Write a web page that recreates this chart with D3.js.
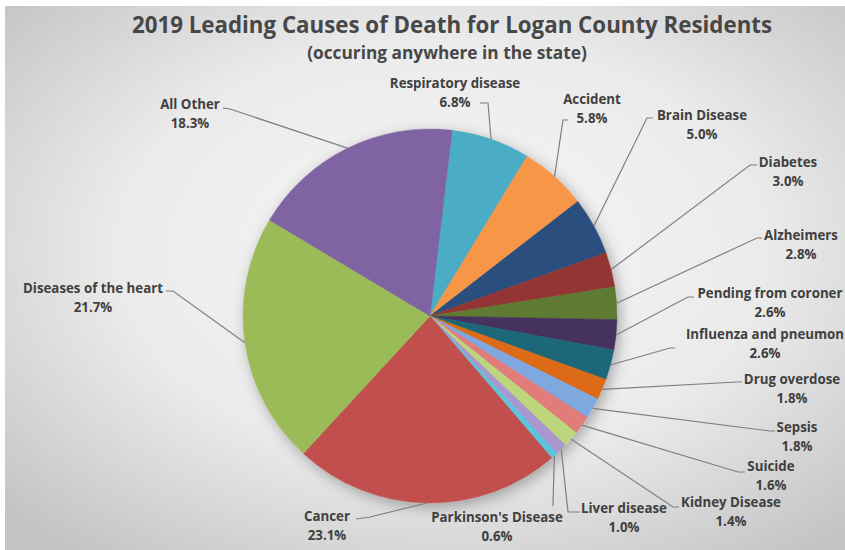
<!DOCTYPE html>
<html>
<head>
<meta charset="utf-8">
<script src="https://cdn.jsdelivr.net/npm/d3@7"></script>
<style>
  body { margin: 0; background: #fff; }
  text { font-family: "Open Sans", "DejaVu Sans", sans-serif; }
</style>
</head>
<body>
<script>
const width = 845, height = 550

// data, clockwise from top
const causes = ['Respiratory disease', 'Accident', 'Brain Disease', 'Diabetes', 'Alzheimers',
  'Pending from coroner', 'Influenza and pneumon', 'Drug overdose', 'Sepsis', 'Suicide',
  'Kidney Disease', 'Liver disease', "Parkinson's Disease", 'Cancer', 'Diseases of the heart', 'All Other']
const percents = [6.8, 5.8, 5.0, 3.0, 2.8, 2.6, 2.6, 1.8, 1.8, 1.6, 1.4, 1.0, 0.6, 23.1, 21.7, 18.3]
const colors = ['#4bacc6', '#f79646', '#2a4f7e', '#943634', '#5f7a30', '#45305e', '#1f6878', '#dd6a12',
  '#7fa8e0', '#e07b79', '#bcd67e', '#a997cf', '#5cc4dc', '#c0504d', '#9bbb59', '#8064a2']

// label layout: name centre x, name y, leader elbow, leader end
const labelPos = [
  [455, 83, 488, 103, 480, 103],
  [592, 99, 563, 120, 568, 120],
  [702, 115, 647, 118, 653, 118],
  [788, 162, 750, 165, 757, 165],
  [801, 235, 757, 238, 762, 238],
  [770, 293, 688, 297, 694, 297],
  [765, 334, 670, 348, 675, 348],
  [792, 379, 737, 382, 742, 382],
  [797, 427, 770, 431, 775, 431],
  [771, 466, 738, 472, 745, 472],
  [731, 502, 673, 507, 679, 507],
  [624, 508, 568, 512, 580, 512],
  [497, 517, 553, 505, 553, 506],
  [327, 516, 370, 517, 356, 519],
  [93, 288, 173, 291, 166, 291],
  [190, 104, 230, 109, 223, 108]
]

const cx = 430, cy = 316, radius = 187
const offset = 6.8 / 180 * Math.PI

const data = causes.map((c, i) => ({ name: c, value: percents[i], color: colors[i], pos: labelPos[i] }))

const svg = d3.select('body').append('svg')
  .attr('width', width)
  .attr('height', height)

const defs = svg.append('defs')
const grad = defs.append('radialGradient')
  .attr('id', 'bg')
  .attr('cx', '52%').attr('cy', '45%').attr('r', '70%')
grad.append('stop').attr('offset', '0%').attr('stop-color', '#f6f6f6')
grad.append('stop').attr('offset', '55%').attr('stop-color', '#ebebeb')
grad.append('stop').attr('offset', '100%').attr('stop-color', '#c4c4c4')

const shadow = defs.append('filter')
  .attr('id', 'shadow')
  .attr('x', '-20%').attr('y', '-20%').attr('width', '140%').attr('height', '140%')
shadow.append('feDropShadow')
  .attr('dx', 3).attr('dy', 4)
  .attr('stdDeviation', 7)
  .attr('flood-color', '#000')
  .attr('flood-opacity', 0.3)

// background
svg.append('rect')
  .attr('x', 5).attr('y', 6)
  .attr('width', width - 5).attr('height', height - 6)
  .attr('fill', 'url(#bg)')

// title
svg.append('text')
  .attr('x', 452).attr('y', 33)
  .attr('text-anchor', 'middle')
  .attr('font-size', 22.3)
  .attr('font-weight', 700)
  .attr('fill', '#474747')
  .text('2019 Leading Causes of Death for Logan County Residents')

svg.append('text')
  .attr('x', 447).attr('y', 59)
  .attr('text-anchor', 'middle')
  .attr('font-size', 17.3)
  .attr('font-weight', 700)
  .attr('fill', '#474747')
  .text('(occuring anywhere in the state)')

const pie = d3.pie()
  .sort(null)
  .value(d => d.value)
  .startAngle(offset)
  .endAngle(offset + 2 * Math.PI)

const arc = d3.arc().innerRadius(0).outerRadius(radius)

const arcs = pie(data)

const g = svg.append('g')
  .attr('transform', 'translate(' + cx + ',' + cy + ')')

g.append('g')
  .attr('filter', 'url(#shadow)')
  .selectAll('path')
  .data(arcs)
  .enter()
  .append('path')
    .attr('d', arc)
    .attr('fill', d => d.data.color)
    .attr('stroke', d => d.data.color)
    .attr('stroke-width', 0.5)

// leader lines: from the slice edge to the label
const line = d3.line()
svg.selectAll('.leader')
  .data(arcs)
  .enter()
  .append('path')
    .attr('class', 'leader')
    .attr('fill', 'none')
    .attr('stroke', '#7f7f7f')
    .attr('stroke-width', 1.2)
    .attr('d', d => {
      const a = (d.startAngle + d.endAngle) / 2
      const p0 = [cx + radius * Math.sin(a), cy - radius * Math.cos(a)]
      const p = d.data.pos
      return line([p0, [p[2], p[3]], [p[4], p[5]]])
    })

const labels = svg.selectAll('.label')
  .data(data)
  .enter()
  .append('text')
    .attr('class', 'label')
    .attr('text-anchor', 'middle')
    .attr('font-size', 13.3)
    .attr('font-weight', 700)
    .attr('fill', '#404040')

labels.append('tspan')
  .attr('x', d => d.pos[0])
  .attr('y', d => d.pos[1] + 4.5)
  .text(d => d.name)

labels.append('tspan')
  .attr('x', d => d.pos[0])
  .attr('y', d => d.pos[1] + 23.5)
  .text(d => d.value.toFixed(1) + '%')
</script>
</body>
</html>
